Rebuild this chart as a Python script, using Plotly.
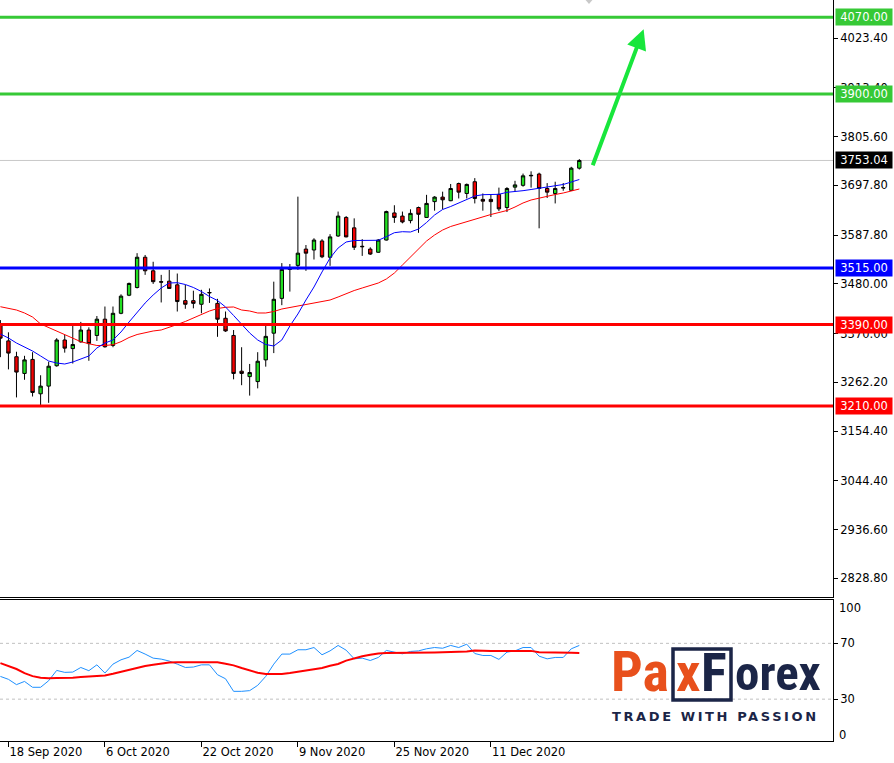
import plotly.graph_objects as go

# ---------------- data ----------------
dates = [
    "2020-09-17", "2020-09-18", "2020-09-21", "2020-09-22", "2020-09-23", "2020-09-24", "2020-09-25", "2020-09-28", "2020-09-29", "2020-09-30",
    "2020-10-01", "2020-10-02", "2020-10-05", "2020-10-06", "2020-10-07", "2020-10-08", "2020-10-09", "2020-10-12", "2020-10-13", "2020-10-14",
    "2020-10-15", "2020-10-16", "2020-10-19", "2020-10-20", "2020-10-21", "2020-10-22", "2020-10-23", "2020-10-26", "2020-10-27", "2020-10-28",
    "2020-10-29", "2020-10-30", "2020-11-02", "2020-11-03", "2020-11-04", "2020-11-05", "2020-11-06", "2020-11-09", "2020-11-10", "2020-11-11",
    "2020-11-12", "2020-11-13", "2020-11-16", "2020-11-17", "2020-11-18", "2020-11-19", "2020-11-20", "2020-11-23", "2020-11-24", "2020-11-25",
    "2020-11-26", "2020-11-27", "2020-11-30", "2020-12-01", "2020-12-02", "2020-12-03", "2020-12-04", "2020-12-07", "2020-12-08", "2020-12-09",
    "2020-12-10", "2020-12-11", "2020-12-14", "2020-12-15", "2020-12-16", "2020-12-17", "2020-12-18", "2020-12-21", "2020-12-22", "2020-12-23",
    "2020-12-24", "2020-12-28", "2020-12-29",
]

open_ = [3391, 3354, 3319, 3282, 3313, 3237, 3254, 3299, 3356, 3337,
         3352, 3378, 3366, 3402, 3344, 3415, 3455, 3472, 3539, 3509,
         3485, 3486, 3478, 3443, 3443, 3435, 3460, 3437, 3404, 3366,
         3287, 3275, 3264, 3312, 3371, 3448, 3512, 3521, 3557, 3555,
         3575, 3539, 3586, 3627, 3604, 3562, 3557, 3550, 3577, 3637,
         3630, 3620, 3649, 3627, 3662, 3672, 3664, 3702, 3680, 3706,
         3667, 3667, 3678, 3649, 3694, 3698, 3719, 3723, 3691, 3680,
         3692, 3687, 3736]
high = [3400, 3373, 3330, 3321, 3329, 3278, 3308, 3360, 3367, 3387,
        3396, 3384, 3409, 3430, 3430, 3457, 3483, 3548, 3544, 3529,
        3500, 3511, 3503, 3478, 3465, 3467, 3470, 3447, 3419, 3378,
        3340, 3303, 3329, 3387, 3485, 3526, 3524, 3673, 3566, 3581,
        3579, 3590, 3640, 3630, 3625, 3579, 3561, 3579, 3642, 3654,
        3640, 3645, 3651, 3677, 3674, 3684, 3701, 3704, 3702, 3714,
        3680, 3678, 3693, 3694, 3708, 3724, 3729, 3726, 3703, 3706,
        3703, 3739, 3756]
low = [3318, 3291, 3229, 3268, 3231, 3212, 3217, 3297, 3328, 3304,
       3350, 3310, 3354, 3339, 3340, 3413, 3453, 3470, 3500, 3480,
       3439, 3469, 3419, 3425, 3426, 3415, 3438, 3363, 3374, 3269,
       3256, 3233, 3249, 3297, 3327, 3433, 3463, 3511, 3509, 3534,
       3537, 3520, 3584, 3583, 3555, 3542, 3544, 3549, 3576, 3615,
       3614, 3614, 3593, 3626, 3642, 3645, 3663, 3669, 3669, 3658,
       3642, 3628, 3641, 3639, 3684, 3695, 3693, 3603, 3670, 3658,
       3686, 3686, 3733]
close = [3360, 3327, 3285, 3312, 3240, 3254, 3298, 3356, 3338, 3346,
         3378, 3348, 3402, 3341, 3415, 3453, 3481, 3539, 3509, 3485,
         3484, 3470, 3441, 3435, 3437, 3457, 3461, 3402, 3376, 3282,
         3282, 3284, 3309, 3364, 3446, 3512, 3516, 3548, 3548, 3577,
         3540, 3584, 3630, 3584, 3561, 3563, 3546, 3577, 3640, 3627,
         3617, 3636, 3634, 3658, 3672, 3666, 3691, 3683, 3700, 3669,
         3663, 3662, 3646, 3691, 3699, 3719, 3720, 3691, 3683, 3691,
         3693, 3736, 3753.04]

ma_fast = [3369.2, 3360.4, 3349.3, 3340.5, 3331.6, 3320.6, 3309.5, 3305.1, 3302.9, 3307.3,
           3314.0, 3320.6, 3338.3, 3349.3, 3356.0, 3373.7, 3395.8, 3417.9, 3437.8, 3455.5,
           3471.0, 3482.0, 3482.7, 3478.7, 3472.1, 3463.2, 3452.2, 3443.3, 3429.0, 3410.2,
           3390.3, 3371.5, 3356.0, 3346.0, 3342.7, 3356.0, 3386.9, 3413.5, 3444.4, 3473.2,
           3506.4, 3537.3, 3559.4, 3572.7, 3576.0, 3576.5, 3576.5, 3576.5, 3584.4, 3593.3,
           3595.5, 3594.8, 3601.4, 3615.8, 3632.4, 3644.6, 3651.2, 3659.0, 3667.8, 3674.4,
           3677.3, 3678.2, 3678.2, 3682.6, 3683.9, 3686.2, 3688.8, 3691.5, 3693.7, 3697.7,
           3699.9, 3705.4, 3710.9]
ma_slow = [3429.6, 3426.7, 3422.3, 3415.7, 3406.8, 3391.4, 3383.6, 3375.9, 3369.2, 3361.5,
           3352.2, 3347.8, 3343.8, 3343.8, 3345.6, 3352.2, 3361.5, 3368.1, 3372.6, 3375.9,
           3378.1, 3383.6, 3390.3, 3396.9, 3404.6, 3411.3, 3420.1, 3425.6, 3428.3, 3429.0,
           3422.3, 3420.1, 3415.7, 3415.7, 3419.0, 3424.5, 3427.8, 3431.2, 3433.4, 3437.8,
           3441.1, 3444.4, 3451.1, 3458.8, 3465.4, 3471.0, 3476.5, 3482.0, 3490.9, 3504.1,
           3521.8, 3539.5, 3558.3, 3574.9, 3588.2, 3599.2, 3607.0, 3612.5, 3618.0, 3623.6,
           3629.1, 3633.5, 3637.9, 3642.4, 3650.1, 3659.0, 3665.6, 3670.0, 3673.3, 3677.7,
           3681.1, 3685.5, 3689.9]

rsi = [46.3, 44.2, 40.4, 42.7, 38.5, 38.5, 43.2, 50.6, 49.2, 49.4,
       52.7, 50.4, 54.6, 48.7, 55.1, 58.2, 60.1, 64.9, 62.3, 59.4,
       58.7, 57.3, 55.1, 52.7, 53.0, 54.6, 54.6, 47.5, 44.6, 35.6,
       35.6, 36.1, 39.9, 46.3, 55.1, 62.3, 62.3, 65.4, 65.4, 67.0,
       61.8, 64.6, 68.5, 65.1, 58.9, 59.4, 57.7, 59.9, 64.9, 63.7,
       62.5, 64.2, 64.6, 66.1, 67.0, 66.5, 68.5, 67.0, 69.4, 62.7,
       61.3, 61.3, 58.5, 63.7, 64.6, 67.0, 67.0, 60.8, 58.9, 59.9,
       59.9, 66.1, 68.5]
rsi_ma = [55.8, 53.9, 51.6, 48.7, 46.5, 45.4, 44.9, 45.1, 45.1, 45.4,
          45.8, 46.3, 46.5, 47.0, 48.2, 49.6, 51.1, 52.5, 53.7, 54.6,
          55.6, 56.3, 56.5, 56.5, 56.5, 56.5, 56.5, 56.5, 55.4, 54.2,
          52.3, 50.4, 48.9, 48.0, 48.0, 48.0, 48.7, 49.6, 50.6, 51.6,
          52.3, 53.9, 55.2, 57.6, 59.4, 60.7, 61.8, 62.8, 63.0, 63.0,
          63.0, 63.0, 63.0, 63.0, 63.5, 63.7, 63.7, 63.7, 64.2, 64.9,
          64.6, 64.6, 64.6, 64.6, 64.6, 64.6, 64.6, 63.7, 63.7, 63.7,
          63.7, 63.2, 63.0]

green_levels = [4070.00, 3900.00]
blue_levels = [3515.00]
red_levels = [3390.00, 3210.00]
last_price = 3753.04

price_ticks = [4023.40, 3913.40, 3805.60, 3697.80, 3587.80, 3480.00,
               3370.00, 3262.20, 3154.40, 3044.40, 2936.60, 2828.80]
date_tick_index = [1, 13, 25, 37, 49, 61]
date_tick_labels = ["18 Sep 2020", "6 Oct 2020", "22 Oct 2020",
                    "9 Nov 2020", "25 Nov 2020", "11 Dec 2020"]
rsi_levels = [70, 30]
rsi_edge_labels = [100, 0]

arrow_tail = [73.6, 3739.2]
arrow_head = [80.0, 4043.1]

# ---------------- styling ----------------
FONT = "DejaVu Sans"
GREEN_LVL = "#36c936"
BLUE_LVL = "#0000ff"
RED_LVL = "#ff0000"
NAVY = "#1b2547"
ORANGE = "#e8501c"

W, H = 894, 763
ML, MR, MT, MB = 0, 61, 0, 22
PW = W - ML - MR      # 833
PH = H - MT - MB      # 741


def px_x(px):
    return px / PW


def px_y(py):
    return 1 - py / PH


fig = go.Figure()

fig.add_trace(go.Candlestick(
    x=dates, open=open_, high=high, low=low, close=close,
    increasing=dict(line=dict(color="black", width=1), fillcolor="#22e022"),
    decreasing=dict(line=dict(color="black", width=1), fillcolor="#f20000"),
    whiskerwidth=0, xaxis="x", yaxis="y", showlegend=False, hoverinfo="skip",
))
fig.add_trace(go.Scatter(x=dates, y=ma_slow, mode="lines", xaxis="x", yaxis="y",
                         line=dict(color="#ff0000", width=1), showlegend=False, hoverinfo="skip"))
fig.add_trace(go.Scatter(x=dates, y=ma_fast, mode="lines", xaxis="x", yaxis="y",
                         line=dict(color="#0000ff", width=1), showlegend=False, hoverinfo="skip"))

fig.add_trace(go.Scatter(x=dates, y=rsi, mode="lines", xaxis="x2", yaxis="y2",
                         line=dict(color="#1e90ff", width=1), showlegend=False, hoverinfo="skip"))
fig.add_trace(go.Scatter(x=dates, y=rsi_ma, mode="lines", xaxis="x2", yaxis="y2",
                         line=dict(color="#ff0000", width=2), showlegend=False, hoverinfo="skip"))

shapes = []
# current price line
shapes.append(dict(type="line", xref="paper", yref="y", x0=0, x1=1, y0=last_price, y1=last_price,
                   line=dict(color="#c8c8c8", width=1), layer="below"))
for lv in green_levels:
    shapes.append(dict(type="line", xref="paper", yref="y", x0=0, x1=1, y0=lv, y1=lv,
                       line=dict(color=GREEN_LVL, width=3), layer="above"))
for lv in blue_levels:
    shapes.append(dict(type="line", xref="paper", yref="y", x0=0, x1=1, y0=lv, y1=lv,
                       line=dict(color=BLUE_LVL, width=3), layer="above"))
for lv in red_levels:
    shapes.append(dict(type="line", xref="paper", yref="y", x0=0, x1=1, y0=lv, y1=lv,
                       line=dict(color=RED_LVL, width=3), layer="above"))
for lv in rsi_levels:
    shapes.append(dict(type="line", xref="paper", yref="y2", x0=0, x1=1, y0=lv, y1=lv,
                       line=dict(color="#c0c0c0", width=1, dash="3px,3px"), layer="below"))
# small grey marker at the top
shapes.append(dict(type="path", xref="paper", yref="paper",
                   path=f"M {px_x(583)} {px_y(-3)} L {px_x(595)} {px_y(-3)} L {px_x(589)} {px_y(4)} Z",
                   fillcolor="#c8c8c8", line=dict(width=0)))
# logo box
shapes.append(dict(type="rect", xref="paper", yref="paper",
                   x0=px_x(673), x1=px_x(731), y0=px_y(700), y1=px_y(649),
                   line=dict(color=NAVY, width=3.5), fillcolor="rgba(0,0,0,0)"))

annotations = []


def level_label(value, bg):
    return dict(xref="paper", yref="y", x=1, y=value, xanchor="left", yanchor="middle",
                xshift=2, text=f"{value:.2f}", showarrow=False, bgcolor=bg,
                font=dict(family=FONT, size=11.5, color="white"),
                width=54, height=14, borderpad=1, align="center")


for lv in green_levels:
    annotations.append(level_label(lv, GREEN_LVL))
annotations.append(level_label(last_price, "#000000"))
for lv in blue_levels:
    annotations.append(level_label(lv, BLUE_LVL))
for lv in red_levels:
    annotations.append(level_label(lv, RED_LVL))

# RSI edge labels (100 / 0)
annotations.append(dict(xref="paper", yref="y2", x=1, y=rsi_edge_labels[0], xanchor="left",
                        yanchor="middle", xshift=4, yshift=-6.5, text=str(rsi_edge_labels[0]),
                        showarrow=False, font=dict(family=FONT, size=11.5, color="black")))
annotations.append(dict(xref="paper", yref="y2", x=1, y=rsi_edge_labels[1], xanchor="left",
                        yanchor="middle", xshift=4, yshift=6, text=str(rsi_edge_labels[1]),
                        showarrow=False, font=dict(family=FONT, size=11.5, color="black")))

# green arrow
annotations.append(dict(xref="x", yref="y", axref="x", ayref="y",
                        x=arrow_head[0], y=arrow_head[1], ax=arrow_tail[0], ay=arrow_tail[1],
                        showarrow=True, arrowhead=2, arrowsize=1, arrowwidth=4,
                        arrowcolor="#18e63c", text=""))

# logo
LOGO_FONT = "Liberation Sans Narrow, Roboto Condensed, Roboto, sans-serif"
annotations.append(dict(xref="paper", yref="paper", x=px_x(609), y=px_y(672), xanchor="left",
                        yanchor="middle", text="<b>Pa</b>", showarrow=False,
                        font=dict(family=LOGO_FONT, size=56, color=ORANGE)))
annotations.append(dict(xref="paper", yref="paper", x=px_x(688), y=px_y(672), xanchor="center",
                        yanchor="middle", text="<b>x</b>", showarrow=False,
                        font=dict(family=LOGO_FONT, size=54, color=ORANGE)))
annotations.append(dict(xref="paper", yref="paper", x=px_x(714), y=px_y(672), xanchor="center",
                        yanchor="middle", text="<b>F</b>", showarrow=False,
                        font=dict(family=LOGO_FONT, size=54, color=NAVY)))
annotations.append(dict(xref="paper", yref="paper", x=px_x(733), y=px_y(673), xanchor="left",
                        yanchor="middle", text="<b>orex</b>", showarrow=False,
                        font=dict(family=LOGO_FONT, size=49, color=NAVY)))
annotations.append(dict(xref="paper", yref="paper", x=px_x(610), y=px_y(716), xanchor="left",
                        yanchor="middle",
                        text='<span style="letter-spacing:2.6px"><b>TRADE WITH PASSION</b></span>',
                        showarrow=False, font=dict(family=FONT, size=13, color=NAVY)))

price_top = 4107.9
price_bottom = 2787.6

fig.update_layout(
    width=W, height=H,
    margin=dict(l=ML, r=MR, t=MT, b=MB),
    paper_bgcolor="white", plot_bgcolor="white",
    showlegend=False, boxgap=0.4,
    font=dict(family=FONT, size=11.5, color="black"),
    xaxis=dict(type="category", anchor="y", domain=[0, 1], range=[-0.05, 103.55],
               showticklabels=False, ticks="", showgrid=False, zeroline=False,
               showline=True, linecolor="black", linewidth=1,
               rangeslider=dict(visible=False)),
    xaxis2=dict(type="category", anchor="y2", domain=[0, 1], range=[-0.05, 103.55],
                tickvals=[dates[i] for i in date_tick_index], ticktext=date_tick_labels,
                ticks="outside", ticklen=5, tickcolor="black", ticklabelposition="outside right",
                showgrid=False, zeroline=False, showline=True, mirror=True,
                linecolor="black", linewidth=1,
                tickfont=dict(family=FONT, size=11.5, color="black")),
    yaxis=dict(anchor="x", domain=[1 - 597 / PH, 1], side="right",
               range=[price_bottom, price_top],
               tickvals=price_ticks, ticktext=[f"{v:.2f}" for v in price_ticks],
               ticks="outside", ticklen=4, tickcolor="black",
               showgrid=False, zeroline=False, showline=True, linecolor="black", linewidth=1,
               tickfont=dict(family=FONT, size=11.5, color="black")),
    yaxis2=dict(anchor="x2", domain=[0, 1 - 600 / PH], side="right",
                range=[0, 101.07], tickvals=rsi_levels, ticktext=[str(v) for v in rsi_levels],
                ticks="outside", ticklen=4, tickcolor="black",
                showgrid=False, zeroline=False, showline=True, linecolor="black", linewidth=1,
                tickfont=dict(family=FONT, size=11.5, color="black")),
    shapes=shapes,
    annotations=annotations,
)

fig.write_html("out.html", config={"displayModeBar": False},
               post_script="document.body.style.margin='0px';document.body.style.overflow='hidden';")
